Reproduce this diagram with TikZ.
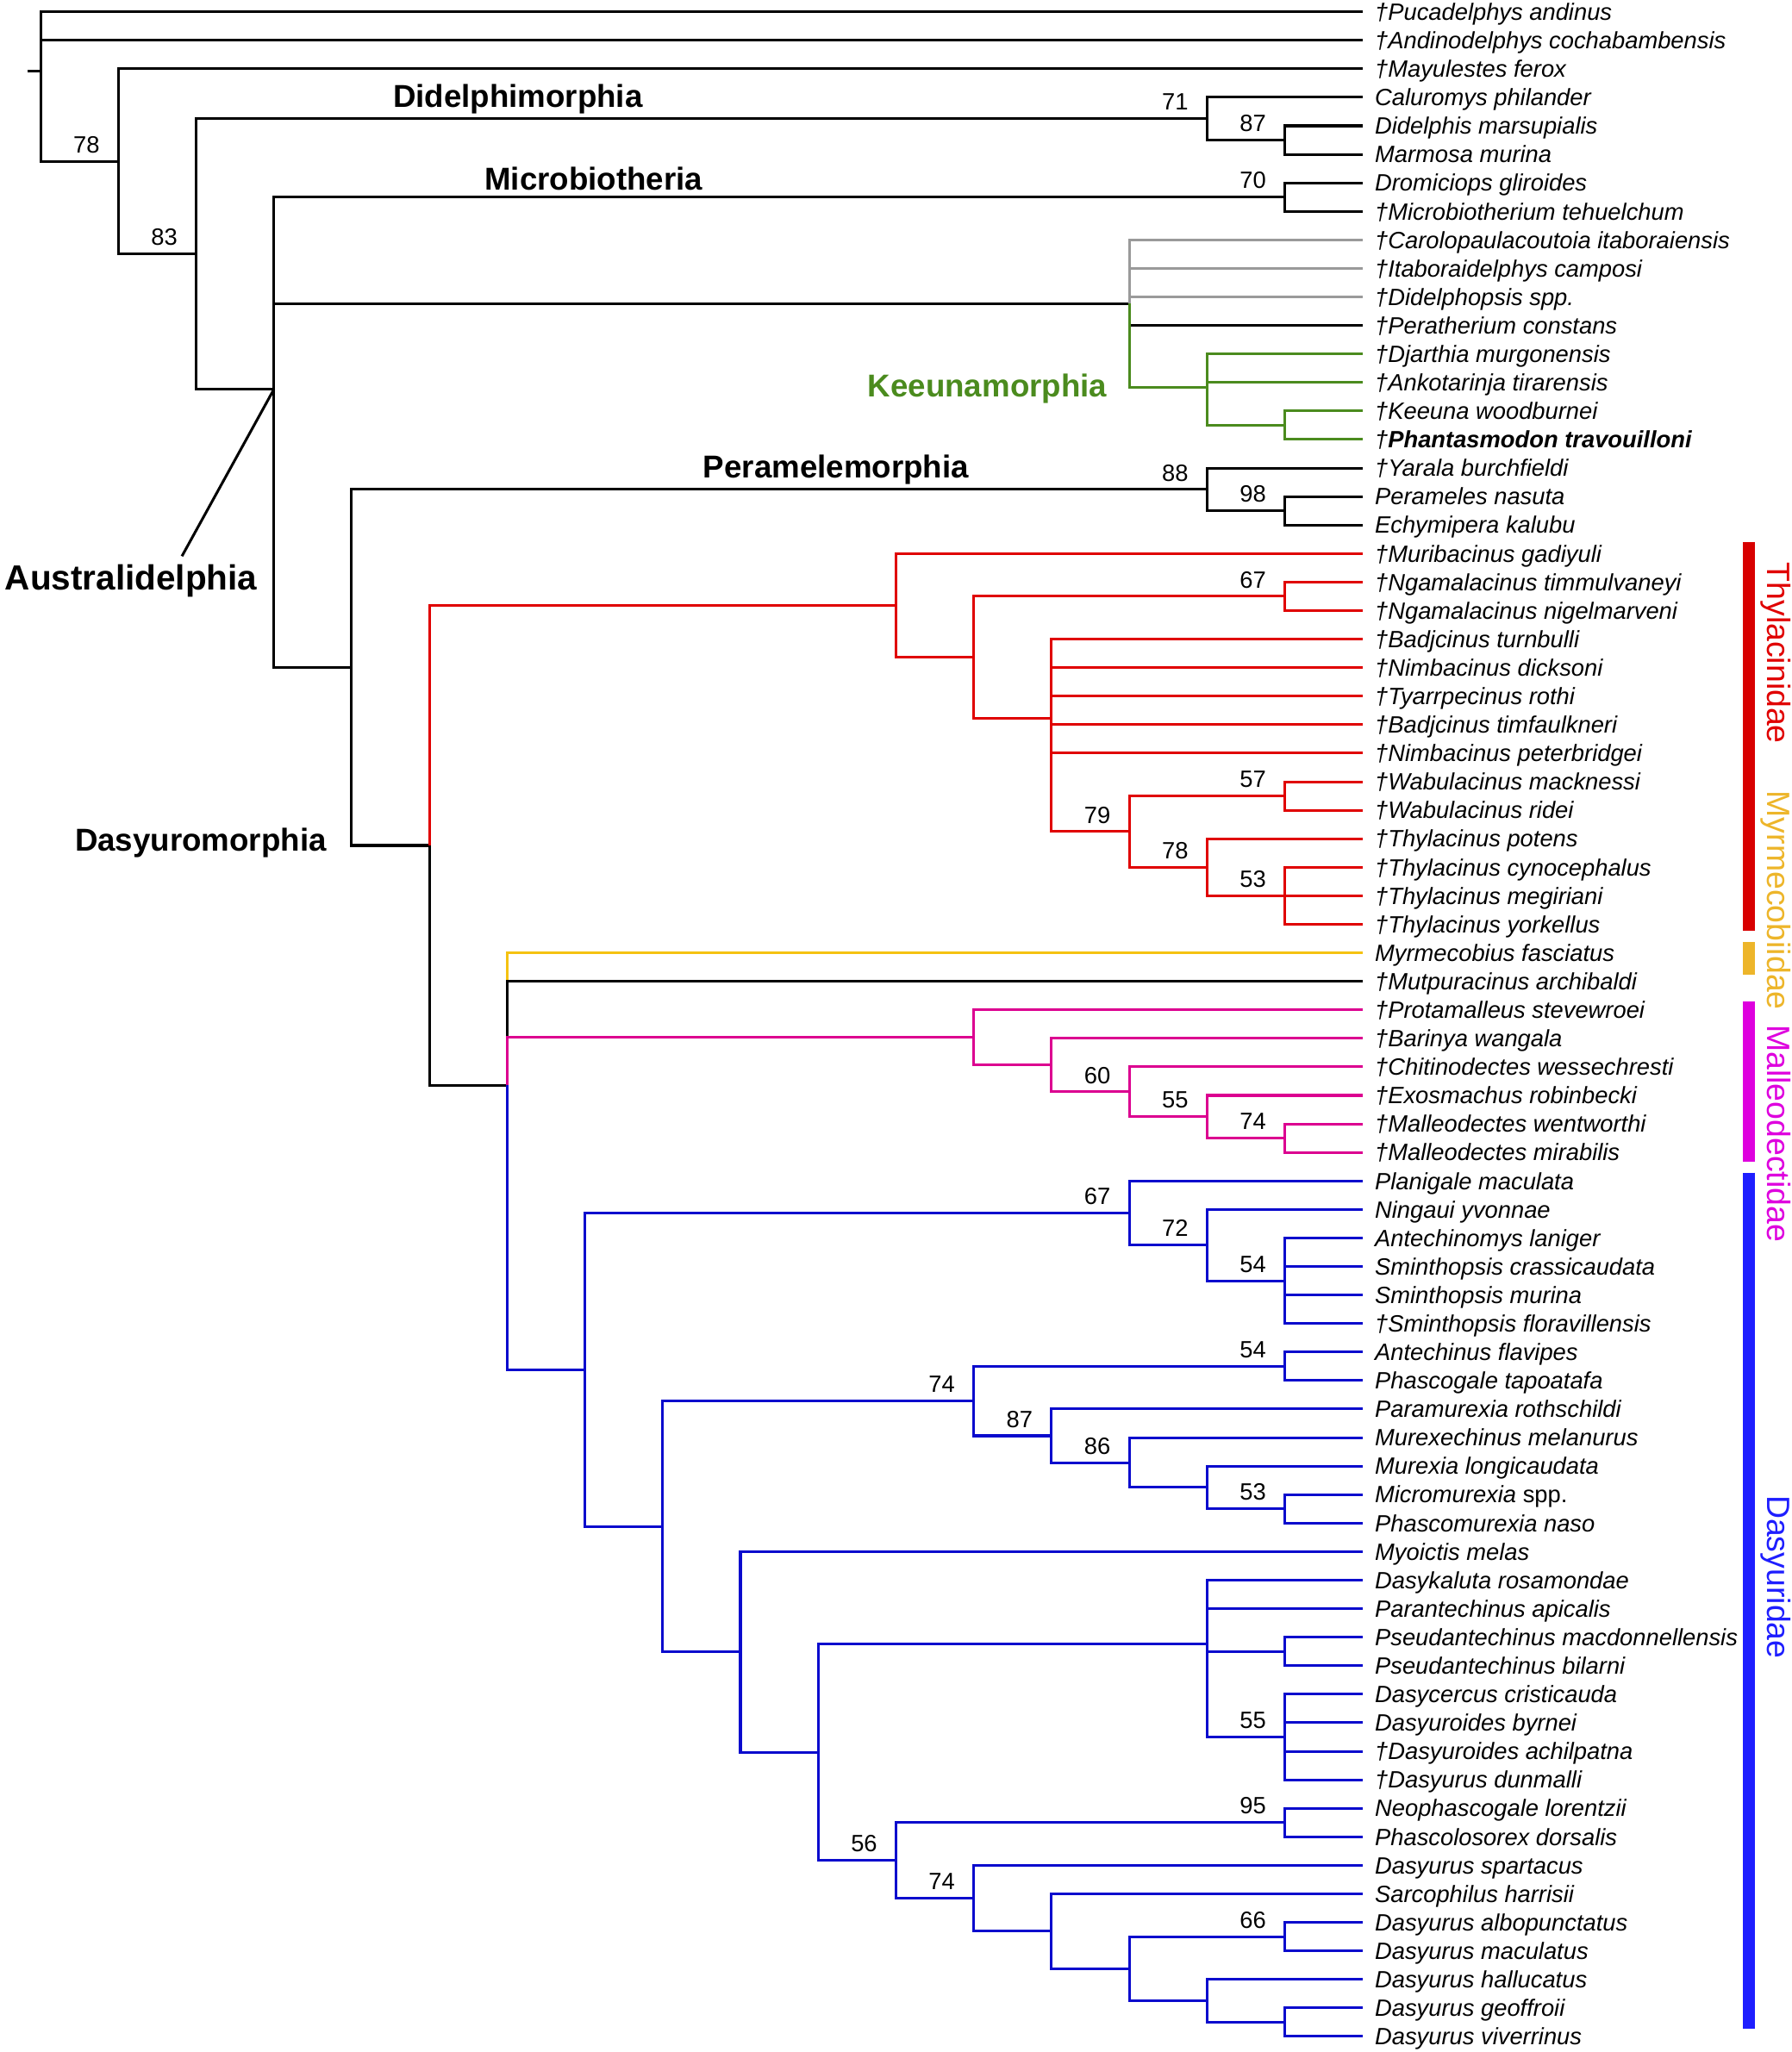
\documentclass[tikz,border=0pt]{standalone}
\usepackage{fontspec}
\setmainfont{Liberation Sans}
\definecolor{treegray}{HTML}{9A9A9A}
\definecolor{keegreen}{HTML}{4B8B1E}
\definecolor{thyred}{HTML}{E00000}
\definecolor{thybar}{HTML}{D80000}
\definecolor{myryellow}{HTML}{F5C211}
\definecolor{myrbar}{HTML}{EDB52A}
\definecolor{malpink}{HTML}{DC0090}
\definecolor{malbar}{HTML}{DE00DE}
\definecolor{dasblue}{HTML}{0A0ACD}
\definecolor{dasbar}{HTML}{1E1EFF}
\newcommand{\dg}{\textdagger}

\begin{document}
\begin{tikzpicture}[
    x=0.6pt, y=-0.6pt,
    line cap=butt, line join=miter,
    br/.style={line width=1.2pt},
    tip/.style={anchor=west, inner xsep=5.5pt, inner ysep=0pt, text height=7.7pt, text depth=0pt,
                font=\fontsize{10.8}{13}\selectfont\itshape},
    bs/.style={anchor=base east, inner sep=0pt, xshift=-8.4pt, yshift=3.9pt,
               font=\fontsize{10.8}{13}\selectfont},
    clade/.style={anchor=base west, inner sep=0pt, font=\fontsize{14.5}{17}\selectfont\bfseries},
    fam/.style={rotate=-90, anchor=base, inner sep=0pt, font=\fontsize{14.8}{17}\selectfont},
    bar/.style={line width=5.5pt},
]
\useasboundingbox (0,0) rectangle (1369,1568);

% ============================================================
% Tree: x = depth level, y = tip row (mean of children for nodes)
% ============================================================
\begin{scope}[shift={(31,9)}, x=35.646pt, y=-13.074pt]
\def\tipx{17}

\foreach \id/\txt [count=\k from 0] in {
  pucad/\dg Pucadelphys andinus,
  andin/\dg Andinodelphys cochabambensis,
  mayul/\dg Mayulestes ferox,
  calur/Caluromys philander,
  didel/Didelphis marsupialis,
  marmo/Marmosa murina,
  dromi/Dromiciops gliroides,
  micro/\dg Microbiotherium tehuelchum,
  carol/\dg Carolopaulacoutoia itaboraiensis,
  itabo/\dg Itaboraidelphys camposi,
  didph/\dg Didelphopsis spp.,
  perat/\dg Peratherium constans,
  djart/\dg Djarthia murgonensis,
  ankot/\dg Ankotarinja tirarensis,
  keeun/\dg Keeuna woodburnei,
  phant/\dg{\bfseries Phantasmodon travouilloni},
  yaral/\dg Yarala burchfieldi,
  peram/Perameles nasuta,
  echym/Echymipera kalubu,
  murib/\dg Muribacinus gadiyuli,
  ngtim/\dg Ngamalacinus timmulvaneyi,
  ngnig/\dg Ngamalacinus nigelmarveni,
  batur/\dg Badjcinus turnbulli,
  nidic/\dg Nimbacinus dicksoni,
  tyarr/\dg Tyarrpecinus rothi,
  batim/\dg Badjcinus timfaulkneri,
  nipet/\dg Nimbacinus peterbridgei,
  wamac/\dg Wabulacinus macknessi,
  warid/\dg Wabulacinus ridei,
  thpot/\dg Thylacinus potens,
  thcyn/\dg Thylacinus cynocephalus,
  thmeg/\dg Thylacinus megiriani,
  thyor/\dg Thylacinus yorkellus,
  myrme/Myrmecobius fasciatus,
  mutpu/\dg Mutpuracinus archibaldi,
  prota/\dg Protamalleus stevewroei,
  barin/\dg Barinya wangala,
  chiti/\dg Chitinodectes wessechresti,
  exosm/\dg Exosmachus robinbecki,
  mawen/\dg Malleodectes wentworthi,
  mamir/\dg Malleodectes mirabilis,
  plani/Planigale maculata,
  ninga/Ningaui yvonnae,
  antmy/Antechinomys laniger,
  smcra/Sminthopsis crassicaudata,
  smmur/Sminthopsis murina,
  smflo/\dg Sminthopsis floravillensis,
  antfl/Antechinus flavipes,
  phtap/Phascogale tapoatafa,
  param/Paramurexia rothschildi,
  murex/Murexechinus melanurus,
  murlo/Murexia longicaudata,
  micmu/Micromurexia \textup{spp.},
  phnas/Phascomurexia naso,
  myoic/Myoictis melas,
  dasyk/Dasykaluta rosamondae,
  paran/Parantechinus apicalis,
  psmac/Pseudantechinus macdonnellensis,
  psbil/Pseudantechinus bilarni,
  dacer/Dasycercus cristicauda,
  dabyr/Dasyuroides byrnei,
  daach/\dg Dasyuroides achilpatna,
  dadun/\dg Dasyurus dunmalli,
  neoph/Neophascogale lorentzii,
  phdor/Phascolosorex dorsalis,
  daspa/Dasyurus spartacus,
  sarco/Sarcophilus harrisii,
  daalb/Dasyurus albopunctatus,
  damac/Dasyurus maculatus,
  dahal/Dasyurus hallucatus,
  dageo/Dasyurus geoffroii,
  daviv/Dasyurus viverrinus}
  \node[tip] (\id) at (\tipx,\k) {\txt};

% Internal nodes
\coordinate (stub)   at (-0.168, 2.083);
\coordinate (root)   at (0, 2.083);
\coordinate (n78)    at (1, 5.248);
\coordinate (n83)    at (2, 8.496);
\coordinate (austr)  at (3, 13.242);
\coordinate (did71)  at (15, 3.75);
\coordinate (did87)  at (16, 4.5);
\coordinate (mic70)  at (16, 6.5);
\coordinate (keeg)   at (14, 10.233);
\coordinate (keem)   at (15, 13.167);
\coordinate (keek)   at (16, 14.5);
\coordinate (n268)   at (4, 22.993);
\coordinate (per88)  at (15, 16.75);
\coordinate (per98)  at (16, 17.5);
\coordinate (das)    at (5, 29.235);
\coordinate (thy)    at (11, 20.823);
\coordinate (thyA)   at (12, 22.646);
\coordinate (thy67)  at (16, 20.5);
\coordinate (thyB)   at (13, 24.792);
\coordinate (thy79)  at (14, 28.75);
\coordinate (thy57)  at (16, 27.5);
\coordinate (thy78)  at (15, 30);
\coordinate (thy53)  at (16, 31);
\coordinate (n388)   at (6, 37.648);
\coordinate (mal)    at (12, 35.969);
\coordinate (mal804) at (13, 36.938);
\coordinate (mal60)  at (14, 37.875);
\coordinate (mal55)  at (15, 38.75);
\coordinate (mal74)  at (16, 39.5);
\coordinate (dsy)    at (7, 47.622);
\coordinate (dsy67)  at (14, 42.125);
\coordinate (dsy72)  at (15, 43.25);
\coordinate (dsy54a) at (16, 44.5);
\coordinate (dsyB)   at (8, 53.119);
\coordinate (dsy74a) at (12, 48.719);
\coordinate (dsy54b) at (16, 47.5);
\coordinate (dsy87)  at (13, 49.938);
\coordinate (dsy86)  at (14, 50.875);
\coordinate (dsyM)   at (15, 51.75);
\coordinate (dsy53)  at (16, 52.5);
\coordinate (dsyC)   at (9, 57.52);
\coordinate (dsyD)   at (10, 61.039);
\coordinate (dsyE)   at (15, 57.25);
\coordinate (pseud)  at (16, 57.5);
\coordinate (dsy55)  at (16, 60.5);
\coordinate (dsy56)  at (11, 64.828);
\coordinate (dsy95)  at (16, 63.5);
\coordinate (dsy74b) at (12, 66.156);
\coordinate (dsyF)   at (13, 67.313);
\coordinate (dsyG)   at (14, 68.625);
\coordinate (dsy66)  at (16, 67.5);
\coordinate (dsyH)   at (15, 69.75);
\coordinate (dsyI)   at (16, 70.5);

% --- backbone, Didelphimorphia, Microbiotheria, Peramelemorphia
\draw[br] (stub) -- (root);
\draw[br] (root) |- (pucad) (root) |- (andin) (root) |- (n78);
\draw[br] (n78) |- (mayul) (n78) |- (n83);
\draw[br] (n83) |- (did71) (n83) |- (austr);
\draw[br] (did71) |- (calur) (did71) |- (did87);
\draw[br] (did87) |- (didel) (did87) |- (marmo);
\draw[br] (austr) |- (mic70) (austr) |- (keeg) (austr) |- (n268);
\draw[br] (mic70) |- (dromi) (mic70) |- (micro);
\draw[br] (n268) |- (per88) (n268) |- (das);
\draw[br] (per88) |- (yaral) (per88) |- (per98);
\draw[br] (per98) |- (peram) (per98) |- (echym);

% --- Keeunamorphia group
\draw[br, treegray] (keeg) |- (carol) (keeg) |- (itabo) (keeg) |- (didph);
\draw[br] (keeg) |- (perat);
\draw[br, keegreen] (keeg) |- (keem)
  (keem) |- (djart) (keem) |- (ankot) (keem) |- (keek)
  (keek) |- (keeun) (keek) |- (phant);

% --- Thylacinidae
\draw[br, thyred] (das) |- (thy)
  (thy) |- (murib) (thy) |- (thyA)
  (thyA) |- (thy67) (thyA) |- (thyB)
  (thy67) |- (ngtim) (thy67) |- (ngnig)
  (thyB) |- (batur) (thyB) |- (nidic) (thyB) |- (tyarr)
  (thyB) |- (batim) (thyB) |- (nipet) (thyB) |- (thy79)
  (thy79) |- (thy57) (thy79) |- (thy78)
  (thy57) |- (wamac) (thy57) |- (warid)
  (thy78) |- (thpot) (thy78) |- (thy53)
  (thy53) |- (thcyn) (thy53) |- (thmeg) (thy53) |- (thyor);

% --- Myrmecobiidae, Mutpuracinus, Malleodectidae
\draw[br] (das) |- (n388);
\draw[br, myryellow] (n388) |- (myrme);
\draw[br] (n388) |- (mutpu);
\draw[br, malpink] (n388) |- (mal)
  (mal) |- (prota) (mal) |- (mal804)
  (mal804) |- (barin) (mal804) |- (mal60)
  (mal60) |- (chiti) (mal60) |- (mal55)
  (mal55) |- (exosm) (mal55) |- (mal74)
  (mal74) |- (mawen) (mal74) |- (mamir);

% --- Dasyuridae
\draw[br, dasblue] (n388) |- (dsy)
  (dsy) |- (dsy67) (dsy) |- (dsyB)
  (dsy67) |- (plani) (dsy67) |- (dsy72)
  (dsy72) |- (ninga) (dsy72) |- (dsy54a)
  (dsy54a) |- (antmy) (dsy54a) |- (smcra) (dsy54a) |- (smmur) (dsy54a) |- (smflo)
  (dsyB) |- (dsy74a) (dsyB) |- (dsyC)
  (dsy74a) |- (dsy54b) (dsy74a) |- (dsy87)
  (dsy54b) |- (antfl) (dsy54b) |- (phtap)
  (dsy87) |- (param) (dsy87) |- (dsy86)
  (dsy86) |- (murex) (dsy86) |- (dsyM)
  (dsyM) |- (murlo) (dsyM) |- (dsy53)
  (dsy53) |- (micmu) (dsy53) |- (phnas)
  (dsyC) |- (myoic) (dsyC) |- (dsyD)
  (dsyD) |- (dsyE) (dsyD) |- (dsy56)
  (dsyE) |- (dasyk) (dsyE) |- (paran) (dsyE) |- (pseud) (dsyE) |- (dsy55)
  (pseud) |- (psmac) (pseud) |- (psbil)
  (dsy55) |- (dacer) (dsy55) |- (dabyr) (dsy55) |- (daach) (dsy55) |- (dadun)
  (dsy56) |- (dsy95) (dsy56) |- (dsy74b)
  (dsy95) |- (neoph) (dsy95) |- (phdor)
  (dsy74b) |- (daspa) (dsy74b) |- (dsyF)
  (dsyF) |- (sarco) (dsyF) |- (dsyG)
  (dsyG) |- (dsy66) (dsyG) |- (dsyH)
  (dsy66) |- (daalb) (dsy66) |- (damac)
  (dsyH) |- (dahal) (dsyH) |- (dsyI)
  (dsyI) |- (dageo) (dsyI) |- (daviv);
\end{scope}

% Support values
\foreach \nd/\val in {n78/78, n83/83, did71/71, did87/87, mic70/70, per88/88, per98/98,
    thy67/67, thy57/57, thy79/79, thy78/78, thy53/53, mal60/60, mal55/55, mal74/74,
    dsy67/67, dsy72/72, dsy54a/54, dsy54b/54, dsy74a/74, dsy87/87, dsy86/86, dsy53/53,
    dsy55/55, dsy95/95, dsy56/56, dsy74b/74, dsy66/66}
  \node[bs] (bs-\nd) at (\nd) {\val};

% ============================================================
% Clade names
% ============================================================
\node[clade] (lbdid) at (300, 82) {Didelphimorphia};
\node[clade] (lbmic) at (370, 145) {Microbiotheria};
\node[clade, anchor=base east, keegreen] (lbkee) at (846, 303) {Keeunamorphia};
\node[clade] (lbper) at (537, 365) {Peramelemorphia};
\node[clade] (lbdas) at (57, 650) {Dasyuromorphia};
\node[clade, font=\fontsize{16}{19}\selectfont\bfseries] (lbaus) at (3.5, 450.5) {Australidelphia};
\coordinate (ptr) at (139, 425);
\draw[br] (austr) -- (ptr);

% Family bars
\draw[bar, thybar] (1336, 414) -- (1336, 711);
\draw[bar, myrbar] (1336, 720) -- (1336, 745);
\draw[bar, malbar] (1336, 765) -- (1336, 888);
\draw[bar, dasbar] (1336, 896) -- (1336, 1550);
\node[fam, thyred] (fthy) at (1350, 499) {Thylacinidae};
\node[fam, myrbar] (fmyr) at (1350, 688) {Myrmecobiidae};
\node[fam, malbar] (fmal) at (1350, 866) {Malleodectidae};
\node[fam, dasbar] (fdas) at (1350, 1205) {Dasyuridae};

\end{tikzpicture}
\end{document}
